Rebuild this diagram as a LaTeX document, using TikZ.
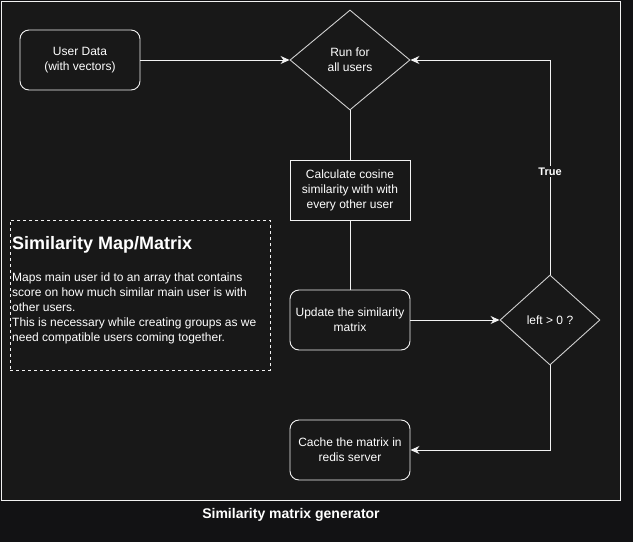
\documentclass[tikz,border=0pt]{standalone}
\usepackage{fontspec}
\setmainfont{Liberation Sans}
\usetikzlibrary{shapes.geometric,arrows.meta}
\definecolor{bgout}{HTML}{121214}
\definecolor{bgin}{HTML}{181818}
\definecolor{ln}{HTML}{F2F2F2}
\definecolor{dl}{HTML}{D0D0D0}
\begin{document}
\begin{tikzpicture}[x=1pt,y=-1pt,
  box/.style={draw=ln, line width=0.9pt, text=white, minimum width=120pt, minimum height=60pt,
    align=center, font=\fontsize{12}{15}\selectfont, inner sep=0pt},
  rbox/.style={box, rounded corners=9pt},
  dia/.style={diamond, draw=dl, line width=0.9pt, text=white, align=center,
    font=\fontsize{12}{15}\selectfont, inner sep=0pt},
  arr/.style={draw=ln, line width=0.9pt, -{Stealth[length=9pt,width=8pt]}},
  con/.style={draw=ln, line width=0.9pt}
]
\useasboundingbox (0,0) rectangle (633,542);
\fill[bgout] (0,0) rectangle (633,542);
\node[draw=ln, fill=bgin, line width=1pt, minimum width=619pt, minimum height=499pt, inner sep=0pt, anchor=north west] (frame) at (0.5,0.5) {};

\node[rbox] (ud) at (80,60) {User Data\\(with vectors)};
\node[dia, minimum width=120pt, minimum height=100pt] (run) at (350,60) {Run for\\all users};
\node[box] (calc) at (350,190) {Calculate cosine\\similarity with with\\every other user};
\node[rbox] (upd) at (350,320) {Update the similarity\\matrix};
\node[dia, minimum width=100pt, minimum height=90pt] (dec) at (550,320) {left \textgreater{} 0 ?};
\node[rbox] (cache) at (350,450) {Cache the matrix in\\redis server};

\node[draw=ln, dash pattern=on 3pt off 3pt, line width=0.8pt, minimum width=260pt, minimum height=150pt, inner sep=0pt, anchor=north west] (note) at (10,220) {};
\node[anchor=base west, text=white, inner sep=0pt, font=\fontsize{18}{21}\selectfont\bfseries] (ntitle) at (12,249) {Similarity Map/Matrix};
\node[anchor=north west, text=white, inner sep=0pt, align=left, font=\fontsize{12}{15}\selectfont] (nbody) at (12,273) {Maps main user id to an array that contains\\score on how much similar main user is with\\other users.\\This is necessary while creating groups as we\\need compatible users coming together.};

\draw[arr] (ud.east) -- (run.west);
\draw[con] (run.south) -- (calc.north);
\draw[con] (calc.south) -- (upd.north);
\draw[arr] (upd.east) -- (dec.west);
\draw[arr] (dec.north) |- (run.east) node[pos=0.24, fill=bgin, text=white, inner sep=2pt, font=\fontsize{11}{13}\selectfont\bfseries] {True};
\draw[arr] (dec.south) |- (cache.east);

\node[text=white, font=\fontsize{14}{16}\selectfont\bfseries] (cap) at (291,515) {Similarity matrix generator};
\end{tikzpicture}
\end{document}
